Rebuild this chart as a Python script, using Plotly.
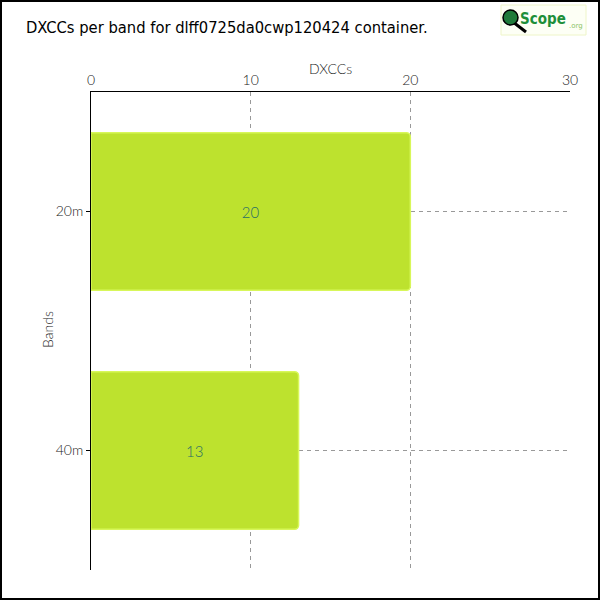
import plotly.graph_objects as go

bands = ["20m", "40m"]
dxccs = [20, 13]
x_ticks = [0, 10, 20, 30]
title_text = "DXCCs per band for dlff0725da0cwp120424 container."

W, H = 600, 600
ML, MR, MT, MB = 91, 30, 92, 30
PW, PH = W - ML - MR, H - MT - MB

def px(x):
    return (x - ML) / PW

def py(y):
    return 1 - (y - MT) / PH

LABEL_FONT = dict(family="Lato", size=14, color="#222", weight=300)

fig = go.Figure()
fig.add_trace(go.Bar(
    y=bands, x=dxccs, orientation="h",
    width=0.66,
    marker=dict(color="#bde22e", line=dict(color="#d8f75a", width=1.5), cornerradius=4),
    text=[str(v) for v in dxccs], textposition="inside", insidetextanchor="middle",
    textfont=dict(color="#2a6e66", size=15, family="Lato", weight=300),
    hoverinfo="skip",
))

shapes = [
    dict(type="rect", xref="paper", yref="paper", x0=px(1), x1=px(599), y0=py(599), y1=py(1),
         line=dict(color="black", width=2), fillcolor="rgba(0,0,0,0)", layer="above"),
    dict(type="rect", xref="paper", yref="paper", x0=px(501), x1=px(586), y0=py(35), y1=py(5),
         line=dict(color="#eef5c8", width=1), fillcolor="#fdfff5", layer="above"),
    dict(type="line", xref="paper", yref="paper", x0=px(513), x1=px(526), y0=py(22), y1=py(32),
         line=dict(color="black", width=3), layer="above"),
    dict(type="circle", xref="paper", yref="paper", x0=px(503), x1=px(518), y0=py(25), y1=py(10),
         line=dict(color="black", width=1.5), fillcolor="#1f7a3a", layer="above"),
]

annotations = [
    dict(text=title_text, xref="paper", yref="paper", x=px(24), y=py(27), xanchor="left", yanchor="middle",
         showarrow=False, font=dict(family="DejaVu Sans Condensed", size=16.4, color="black")),
    dict(text="<b>Scope</b>", xref="paper", yref="paper", x=px(518), y=py(19), xanchor="left", yanchor="middle",
         showarrow=False, font=dict(family="DejaVu Sans Condensed", size=15, color="#1e8f3a")),
    dict(text=".org", xref="paper", yref="paper", x=px(567), y=py(26), xanchor="left", yanchor="middle",
         showarrow=False, font=dict(family="DejaVu Sans", size=7, color="#8cc46a")),
    dict(text="DXCCs", xref="paper", yref="paper", x=px(330), y=py(68), xanchor="center", yanchor="middle",
         showarrow=False, font=LABEL_FONT),
    dict(text="Bands", xref="paper", yref="paper", x=px(47), y=py(330), xanchor="center", yanchor="middle",
         textangle=-90, showarrow=False, font=LABEL_FONT),
]

grid = dict(showgrid=True, gridcolor="#999999", griddash="4px,4px", gridwidth=1)

fig.update_layout(
    width=W, height=H,
    margin=dict(l=ML, r=MR, t=MT, b=MB),
    paper_bgcolor="white", plot_bgcolor="white",
    showlegend=False,
    shapes=shapes, annotations=annotations,
    xaxis=dict(
        side="top", range=[0, 30], tickvals=x_ticks, ticktext=[str(t) for t in x_ticks],
        showline=True, linecolor="black", linewidth=1, zeroline=False,
        ticks="", tickfont=LABEL_FONT, fixedrange=True, **grid,
    ),
    yaxis=dict(
        categoryorder="array", categoryarray=bands[::-1],
        autorange=False, range=[-0.5, 1.5],
        showline=True, linecolor="black", linewidth=1, zeroline=False,
        ticks="outside", ticklen=4, tickcolor="black",
        tickfont=LABEL_FONT, fixedrange=True, **grid,
    ),
    bargap=0.34,
)

fig.write_html("out.html", config={"displayModeBar": False},
               post_script="document.body.style.margin='0';document.body.style.padding='0';")
